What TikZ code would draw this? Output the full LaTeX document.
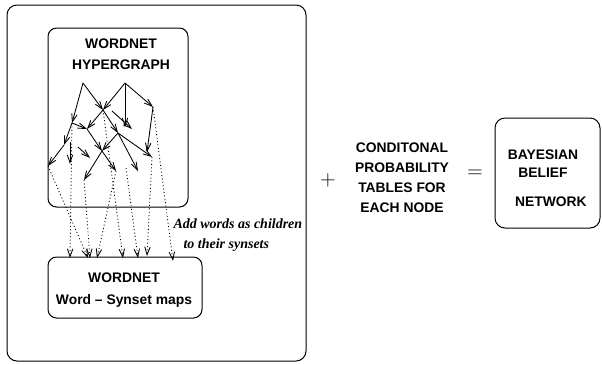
\documentclass[tikz,border=0pt]{standalone}
\usepackage{fontspec}
\setmainfont{Liberation Sans}
\newfontfamily\timesfont{Liberation Serif}
\usetikzlibrary{arrows.meta}

\begin{document}
\begin{tikzpicture}[x=.7pt,y=-.7pt,line width=.7pt] % pixel grid, y down
\tikzstyle{arc}=[-{Straight Barb[length=5.5pt,width=3.8pt]},line width=.6pt]
\tikzstyle{link}=[arc,dash pattern=on .7pt off 1.7pt]
\tikzstyle{caps}=[font=\fontsize{9.7}{14.5}\selectfont\bfseries,align=center,inner sep=0pt]
\tikzstyle{sign}=[font=\fontsize{14}{14}\selectfont,inner sep=0pt]

\useasboundingbox (0,0) rectangle (602,364);

% boxes
\draw[rounded corners=7pt] (7,5) rectangle (306,361); % outer box
\draw[rounded corners=6pt] (48,28) rectangle (188,207); % hypergraph
\draw[rounded corners=6pt] (48,257) rectangle (202,318); % word - synset maps
\draw[rounded corners=7pt] (495,118) rectangle (600,228); % bayesian network

% texts
\draw (121,54.5) node[caps] (hyper) {WORDNET\\HYPERGRAPH}; % hypergraph
\draw (124,290) node[caps,font=\fontsize{9.7}{15.4}\selectfont\bfseries] (wsmap) {WORDNET\\Word -- Synset maps}; % maps
\draw (173,235) node[anchor=west,align=left,inner sep=0pt,
  font=\fontsize{9.8}{14}\selectfont\timesfont\bfseries\itshape] (addw)
  {Add words as children\\\hspace*{7pt}to their synsets}; % words to synsets
\draw (328,180) node[sign] (plus) {$+$}; % plus
\draw (402,178) node[caps,font=\fontsize{9.7}{14}\selectfont\bfseries] (cpt)
  {CONDITONAL\\PROBABILITY\\TABLES FOR\\EACH NODE}; % tables
\draw (475,174) node[sign] (equal) {$=$}; % equal
\draw (543,178.5) node[caps,font=\fontsize{9.7}{12.6}\selectfont\bfseries] (bbn)
  {BAYESIAN\\BELIEF\\[7.7pt]\hspace*{11pt}NETWORK}; % bayesian belief network

% hypergraph vertices
\coordinate (a) at (83,83); % top left
\coordinate (b) at (125,83); % top right
\coordinate (c) at (103,110);
\coordinate (d) at (153,107);
\coordinate (p) at (72,123);
\coordinate (g) at (87,129);
\coordinate (e) at (118,133);
\coordinate (h) at (125,127);
\coordinate (q) at (112,111);
\coordinate (h2) at (132,129);
\coordinate (d2) at (147,152);
\coordinate (k) at (152,157);
\coordinate (m1) at (64,145);
\coordinate (m2) at (48,166);
\coordinate (s1) at (70,142);
\coordinate (m3) at (70,164);
\coordinate (s2) at (78,147);
\coordinate (m4) at (90,158);
\coordinate (f) at (102,151);
\coordinate (n) at (116,171);
\coordinate (r) at (138,171);
\coordinate (t) at (84,180);
\coordinate (u) at (126,168);

% hypergraph edges
\draw[arc] (a) -- (p);
\draw[arc] (a) -- (c);
\draw[arc] (b) -- (c);
\draw[arc] (b) -- (h);
\draw[arc] (b) -- (d);
\draw[arc] (c) -- (g);
\draw[arc] (c) -- (e);
\draw[arc] (p) -- (g);
\draw[arc] (q) -- (h2);
\draw[arc] (d) -- (d2);
\draw[arc] (e) -- (f);
\draw[arc] (g) -- (f);
\draw[arc] (e) -- (k);
\draw[arc] (e) -- (r);
\draw[arc] (p) -- (m1);
\draw[arc] (m1) -- (m2);
\draw[arc] (s1) -- (m3);
\draw[arc] (s2) -- (m4);
\draw[arc] (f) -- (n);
\draw[arc] (f) -- (t);

% word ends on top of the maps box
\coordinate (w1) at (70,258);
\coordinate (w2) at (88,258);
\coordinate (w3) at (90,258);
\coordinate (w4) at (97,258);
\coordinate (w5) at (123,258);
\coordinate (w6) at (138,258);
\coordinate (w7) at (147,256);
\coordinate (w8) at (173,261);

% words as children
\draw[link] (p) -- (w1);
\draw[link] (m2) -- (w2);
\draw[link] (t) -- (w3);
\draw[link] (n) -- (w4);
\draw[link] (c) -- (w5);
\draw[link] (u) -- (w6);
\draw[link] (k) -- (w7);
\draw[link] (d) -- (w8);
\end{tikzpicture}
\end{document}
